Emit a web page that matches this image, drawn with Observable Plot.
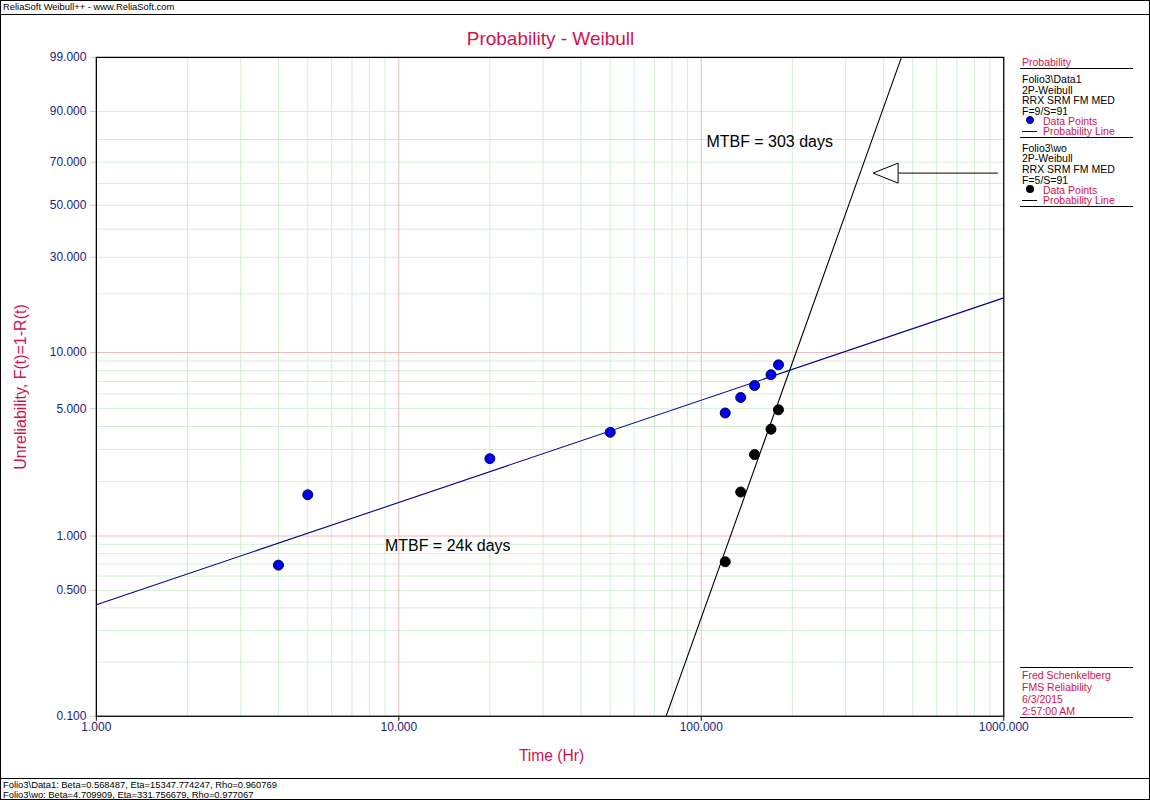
<!DOCTYPE html>
<html>
<head>
<meta charset="utf-8">
<script src="https://cdn.jsdelivr.net/npm/d3@7"></script>
<script src="https://cdn.jsdelivr.net/npm/@observablehq/plot@0.6"></script>
<style>
  html, body { margin: 0; padding: 0; background: #fff; }
  #wrap { position: relative; width: 1150px; height: 800px; box-sizing: border-box; border: 1px solid #000; overflow: hidden; font-family: "Liberation Sans", Arial, sans-serif; }
  #chart { position: absolute; left: -1px; top: -1px; }
  .t { position: absolute; white-space: nowrap; line-height: 12px; }
  .hr { position: absolute; height: 1px; background: #000; }
  .crim { color: #d2124f; }
</style>
</head>
<body>
<div id="wrap"></div>
<script>
// ---------------- data ----------------
const xTickLabels = [1, 10, 100, 1000];
const yTickLabels = [99, 90, 70, 50, 30, 10, 5, 1, 0.5, 0.1];
const xGridMajor = [10, 100];
const xGridMinor = [2,3,4,5,6,7,8,9, 20,30,40,50,60,70,80,90, 200,300,400,500,600,700,800,900];
const yGridMajor = [10, 1];
const yGridMinor = [90,80,70,60,50,40,30,20, 9,8,7,6,5,4,3,2, 0.9,0.8,0.7,0.6,0.5,0.4,0.3,0.2];

// Folio3\Data1 (blue)
const data1Times = [4, 5, 20, 50, 120, 135, 150, 170, 180];
const data1F     = [0.69, 1.69, 2.67, 3.72, 4.74, 5.75, 6.67, 7.62, 8.6];
const data1LineT = [1, 1000];
const data1LineF = [0.416, 19.1];

// Folio3\wo (black)
const woTimes = [120, 135, 150, 170, 180];
const woF     = [0.72, 1.75, 2.81, 3.87, 4.93];
const woLineT = [76.5, 459];
const woLineF = [0.1, 99];

// annotations
const notes = [
  {t: 104, F: 79, label: "MTBF = 303 days"},
  {t: 9, F: 0.88, label: "MTBF = 24k days"}
];
const arrowTipT = 370, arrowBaseT = 447, arrowTailT = 960, arrowF = 64.9;

// ---------------- helpers ----------------
const wb = p => Math.log(-Math.log(1 - p / 100));
const inv = w => 100 * (1 - Math.exp(-Math.exp(w)));
const fmt3 = d3.format(".3f");
const navy = "#1c1c80";
const gridGreen = "#d3eed3";
const gridRed = "#f1b9b9";

const pts1 = data1Times.map((t, i) => ({t, F: data1F[i]}));
const pts2 = woTimes.map((t, i) => ({t, F: woF[i]}));
const line1 = data1LineT.map((t, i) => ({t, F: data1LineF[i]}));
const line2 = woLineT.map((t, i) => ({t, F: woLineF[i]}));

const arrowHead = {
  draw(ctx) {
    ctx.moveTo(0, 0);
    ctx.lineTo(25, -10);
    ctx.lineTo(25, 10);
    ctx.closePath();
  }
};

const chart = Plot.plot({
  width: 1150,
  height: 800,
  marginTop: 57,
  marginLeft: 96,
  marginRight: 145,
  marginBottom: 83,
  style: {background: "transparent", fontFamily: "'Liberation Sans', Arial, sans-serif"},
  x: {type: "log", domain: [1, 1000]},
  y: {type: "linear", domain: [wb(0.1), wb(99)]},
  marks: [
    Plot.ruleX(xGridMinor, {stroke: gridGreen, strokeWidth: 1}),
    Plot.ruleY(yGridMinor, {y: d => wb(d), stroke: gridGreen, strokeWidth: 1}),
    Plot.ruleX(xGridMajor, {stroke: gridRed, strokeWidth: 1}),
    Plot.ruleY(yGridMajor, {y: d => wb(d), stroke: gridRed, strokeWidth: 1}),
    Plot.axisY({ticks: yTickLabels.map(wb), tickSize: 6, stroke: "#e3c9b8", tickFormat: () => "", label: null}),
    Plot.axisY({ticks: yTickLabels.map(wb), tickSize: 0, tickPadding: 10, fill: navy, fontSize: 12, tickFormat: w => fmt3(Math.round(inv(w) * 1000) / 1000), label: null}),
    Plot.axisX({ticks: xTickLabels, tickSize: 5, stroke: "#000", tickPadding: 1, fill: navy, fontSize: 12, tickFormat: fmt3, label: null}),
    Plot.frame({stroke: "#000", strokeWidth: 1.3}),
    Plot.line(line1, {x: "t", y: d => wb(d.F), stroke: "#00008b", strokeWidth: 1.1, clip: true}),
    Plot.line(line2, {x: "t", y: d => wb(d.F), stroke: "#000", strokeWidth: 1.1, clip: true}),
    Plot.dot(pts1, {x: "t", y: d => wb(d.F), r: 5, fill: "#0000f0", stroke: "#000050", strokeWidth: 1}),
    Plot.dot(pts2, {x: "t", y: d => wb(d.F), r: 5, fill: "#000", stroke: "#000", strokeWidth: 1}),
    Plot.text(notes, {x: "t", y: d => wb(d.F), text: "label", textAnchor: "start", fontSize: 16, fill: "#000"}),
    Plot.ruleY([arrowF], {y: d => wb(d), x1: arrowBaseT, x2: arrowTailT, stroke: "#000", strokeWidth: 1}),
    Plot.dot([arrowF], {x: arrowTipT, y: d => wb(d), symbol: arrowHead, fill: "#fff", stroke: "#000", strokeWidth: 1})
  ]
});
chart.id = "chart";
const wrap = document.getElementById("wrap");
wrap.appendChild(chart);

// ---------------- HTML texts ----------------
function txt(s, x, cy, opts = {}) {
  const d = document.createElement("div");
  d.className = "t" + (opts.cls ? " " + opts.cls : "");
  d.textContent = s;
  d.style.left = (x - 1) + "px";
  d.style.top = (cy - 7) + "px";
  d.style.fontSize = (opts.size || 10.5) + "px";
  if (opts.color) d.style.color = opts.color;
  wrap.appendChild(d);
  return d;
}
function hr(x1, x2, y) {
  const d = document.createElement("div");
  d.className = "hr";
  d.style.left = (x1 - 1) + "px"; d.style.width = (x2 - x1) + "px"; d.style.top = (y - 1) + "px";
  wrap.appendChild(d);
}

// header / footer
txt("ReliaSoft Weibull++ - www.ReliaSoft.com", 3, 7, {size: 9.4});
hr(0, 1150, 14);
hr(0, 1150, 778);
txt("Folio3\\Data1: Beta=0.568487, Eta=15347.774247, Rho=0.960769", 3, 785, {size: 9.4});
txt("Folio3\\wo: Beta=4.709909, Eta=331.756679, Rho=0.977067", 3, 795, {size: 9.4});

// title & axis labels
const title = document.createElement("div");
title.className = "t crim";
title.textContent = "Probability - Weibull";
Object.assign(title.style, {left: "95px", width: "909px", textAlign: "center", top: "27px", fontSize: "19px", lineHeight: "21px"});
wrap.appendChild(title);

const xl = document.createElement("div");
xl.className = "t crim";
xl.textContent = "Time (Hr)";
Object.assign(xl.style, {left: "95px", width: "911px", textAlign: "center", top: "746px", fontSize: "15.6px", lineHeight: "18px"});
wrap.appendChild(xl);

const yl = document.createElement("div");
yl.className = "t crim";
yl.textContent = "Unreliability, F(t)=1-R(t)";
Object.assign(yl.style, {left: "20px", top: "386px", fontSize: "16px", lineHeight: "18px", transform: "translate(-50%,-50%) rotate(-90deg)"});
wrap.appendChild(yl);

// legend
txt("Probability", 1022, 62, {cls: "crim"});
hr(1020, 1133, 68);
txt("Folio3\\Data1", 1022, 79);
txt("2P-Weibull", 1022, 90);
txt("RRX SRM FM MED", 1022, 100);
txt("F=9/S=91", 1022, 111);
const dot1 = document.createElement("div");
Object.assign(dot1.style, {position: "absolute", left: "1025px", top: "115px", width: "8px", height: "8px", borderRadius: "50%", background: "#0000f0", border: "1px solid #000050", boxSizing: "border-box"});
wrap.appendChild(dot1);
txt("Data Points", 1043, 121, {cls: "crim"});
const l1 = document.createElement("div");
Object.assign(l1.style, {position: "absolute", left: "1021px", top: "130px", width: "15px", height: "1px", background: "#00008b"});
wrap.appendChild(l1);
txt("Probability Line", 1043, 131, {cls: "crim"});
hr(1020, 1133, 137);
txt("Folio3\\wo", 1022, 148);
txt("2P-Weibull", 1022, 158);
txt("RRX SRM FM MED", 1022, 169);
txt("F=5/S=91", 1022, 180);
const dot2 = document.createElement("div");
Object.assign(dot2.style, {position: "absolute", left: "1025px", top: "184px", width: "8px", height: "8px", borderRadius: "50%", background: "#000"});
wrap.appendChild(dot2);
txt("Data Points", 1043, 190, {cls: "crim"});
const l2 = document.createElement("div");
Object.assign(l2.style, {position: "absolute", left: "1021px", top: "199px", width: "15px", height: "1px", background: "#000"});
wrap.appendChild(l2);
txt("Probability Line", 1043, 200, {cls: "crim"});
hr(1020, 1133, 206);

hr(1020, 1133, 667);
txt("Fred Schenkelberg", 1022, 675, {cls: "crim"});
txt("FMS Reliability", 1022, 687, {cls: "crim"});
txt("6/3/2015", 1022, 699, {cls: "crim"});
txt("2:57:00 AM", 1022, 711, {cls: "crim"});
hr(1020, 1133, 717);
</script>
</body>
</html>
